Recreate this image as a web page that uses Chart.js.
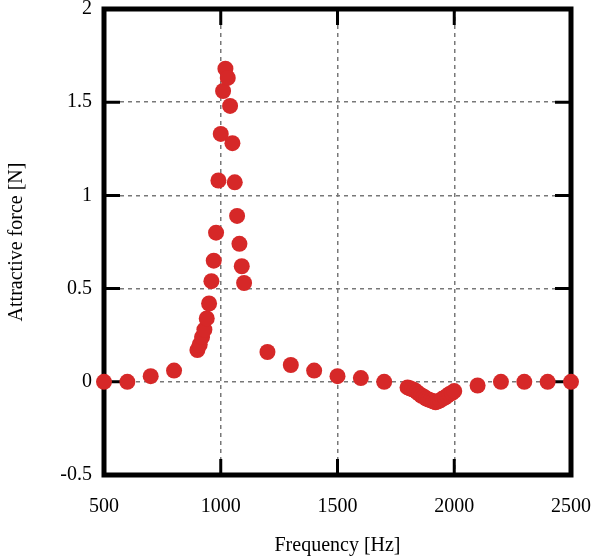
<!DOCTYPE html>
<html>
<head>
<meta charset="utf-8">
<script src="https://cdn.jsdelivr.net/npm/chart.js@4"></script>
<style>
  html, body { margin: 0; padding: 0; background: #fff; }
  #wrap { width: 591px; height: 559px; }
</style>
</head>
<body>
<div id="wrap"><canvas id="chart" width="591" height="559"></canvas></div>
<script>
// measured force vs drive frequency
const freqHz = [500, 600, 700, 800,
  900, 910, 920, 930, 940, 950, 960, 970, 980, 990,
  1000, 1010, 1020, 1030, 1040, 1050, 1060, 1070, 1080, 1090, 1100,
  1200, 1300, 1400, 1500, 1600, 1700,
  1800, 1810, 1820, 1830, 1840, 1850, 1860, 1870, 1880, 1890, 1900,
  1910, 1920, 1930, 1940, 1950, 1960, 1970, 1980, 1990, 2000,
  2100, 2200, 2300, 2400, 2500];
const forceN = [0, 0, 0.03, 0.06,
  0.17, 0.2, 0.24, 0.28, 0.34, 0.42, 0.54, 0.65, 0.8, 1.08,
  1.33, 1.56, 1.68, 1.63, 1.48, 1.28, 1.07, 0.89, 0.74, 0.62, 0.53,
  0.16, 0.09, 0.06, 0.03, 0.02, 0,
  -0.03, -0.035, -0.04, -0.045, -0.055, -0.065, -0.075, -0.08, -0.09, -0.095, -0.1,
  -0.105, -0.11, -0.105, -0.1, -0.09, -0.085, -0.075, -0.065, -0.06, -0.05,
  -0.02, 0, 0, 0, 0];

const xTicks = [500, 1000, 1500, 2000, 2500];
const yTicks = [-0.5, 0, 0.5, 1, 1.5, 2];

const FONT = { family: "'Liberation Serif', 'DejaVu Serif', serif", size: 20 };

const points = freqHz.map((f, i) => ({ x: f, y: forceN[i] }));

// thick frame + inward ticks, gnuplot style
const framePlugin = {
  id: "frame",
  beforeDatasetsDraw(chart) {
    const { ctx, chartArea: a, scales } = chart;
    ctx.save();
    ctx.strokeStyle = "#000";
    ctx.lineWidth = 3;
    const len = 16;
    xTicks.forEach((v) => {
      const px = scales.x.getPixelForValue(v);
      ctx.beginPath();
      ctx.moveTo(px, a.bottom); ctx.lineTo(px, a.bottom - len);
      ctx.moveTo(px, a.top); ctx.lineTo(px, a.top + len);
      ctx.stroke();
    });
    yTicks.forEach((v) => {
      const py = scales.y.getPixelForValue(v);
      ctx.beginPath();
      ctx.moveTo(a.left, py); ctx.lineTo(a.left + len, py);
      ctx.moveTo(a.right, py); ctx.lineTo(a.right - len, py);
      ctx.stroke();
    });
    ctx.lineWidth = 5;
    ctx.strokeRect(a.left, a.top, a.right - a.left, a.bottom - a.top);
    ctx.restore();
  }
};

new Chart(document.getElementById("chart"), {
  type: "scatter",
  data: {
    datasets: [{
      data: points,
      pointRadius: 8,
      pointHoverRadius: 8,
      pointBackgroundColor: "rgb(214,40,40)",
      pointBorderWidth: 0,
      clip: false
    }]
  },
  options: {
    responsive: false,
    animation: false,
    layout: { autoPadding: false, padding: 0 },
    plugins: { legend: { display: false }, tooltip: { enabled: false } },
    scales: {
      x: {
        type: "linear",
        min: 500,
        max: 2500,
        afterBuildTicks: (s) => { s.ticks = xTicks.map((v) => ({ value: v })); },
        afterFit: (s) => {
          s.height = 84;
          s.paddingLeft = 0;
          s.paddingRight = 20;
        },
        ticks: {
          color: "#000",
          font: FONT,
          padding: 20,
          maxRotation: 0,
          callback: (v) => String(v)
        },
        grid: { color: "rgb(120,120,120)", lineWidth: 1.5, drawTicks: false },
        border: { display: false, dash: [4, 4] },
        title: {
          display: true,
          text: "Frequency [Hz]",
          color: "#000",
          font: FONT,
          padding: { top: 0, bottom: 1 }
        }
      },
      y: {
        type: "linear",
        min: -0.5,
        max: 2,
        afterBuildTicks: (s) => { s.ticks = yTicks.map((v) => ({ value: v })); },
        afterFit: (s) => {
          s.width = 104;
          s.paddingTop = 9;
          s.paddingBottom = 0;
        },
        ticks: {
          color: "#000",
          font: FONT,
          padding: 12,
          callback: (v) => String(v)
        },
        grid: { color: "rgb(120,120,120)", lineWidth: 1.5, drawTicks: false },
        border: { display: false, dash: [4, 4] },
        title: {
          display: true,
          text: "Attractive force [N]",
          color: "#000",
          font: FONT,
          padding: { top: 5, bottom: 0 }
        }
      }
    }
  },
  plugins: [framePlugin]
});
</script>
</body>
</html>
